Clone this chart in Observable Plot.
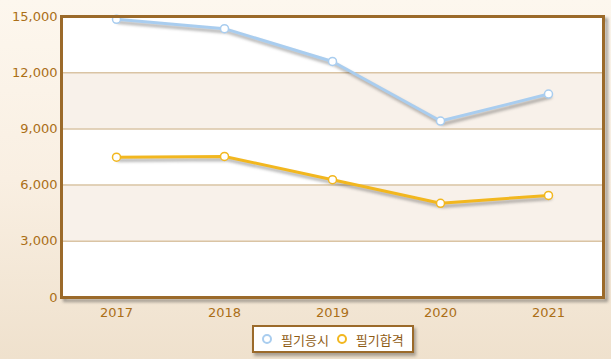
<!DOCTYPE html>
<html>
<head>
<meta charset="utf-8">
<script src="https://cdn.jsdelivr.net/npm/d3@7"></script>
<script src="https://cdn.jsdelivr.net/npm/@observablehq/plot@0.6"></script>
<style>
html, body { margin: 0; padding: 0; }
body { width: 611px; height: 359px; overflow: hidden; position: relative;
  background: linear-gradient(to bottom, #fdf7ee 0%, #f9efe2 50%, #efe1cd 100%);
  font-family: "DejaVu Sans", Verdana, sans-serif; }
.shadow { filter: blur(1.4px); }
#legend { position: absolute; left: 252px; top: 325px; width: 162px; height: 28px; box-sizing: border-box;
  background: #fff; border: 2px solid #9b6a2a; box-shadow: 2px 3px 3px rgba(0,0,0,0.3);
  display: flex; align-items: center; font-family: "Noto Sans CJK KR", sans-serif; font-size: 13px; color: #8f5c14; }
#legend .item { display: flex; align-items: center; }
#legend .dot { width: 6px; height: 6px; border-radius: 50%; border: 2px solid; background: #fff; margin: 0 9px 0 8px; }
</style>
</head>
<body>
<div id="chart"></div>
<div id="legend"></div>
<script>
const years = ["2017", "2018", "2019", "2020", "2021"];
const applicants = [14850, 14350, 12600, 9420, 10860];
const passers = [7490, 7530, 6290, 5030, 5450];
const seriesNames = ["필기응시", "필기합격"];
const yTicks = [0, 3000, 6000, 9000, 12000, 15000];
const bandStarts = [0, 3000, 6000, 9000, 12000];

const colors = ["#a9cdef", "#f2b71f"];
const labelColor = "#ab6f17";
const frameColor = "#9b6a2a";

const rows = [];
years.forEach((y, i) => {
  rows.push({year: y, value: applicants[i], series: seriesNames[0]});
  rows.push({year: y, value: passers[i], series: seriesNames[1]});
});
const bands = bandStarts.map(b => ({lo: b, hi: b + 3000}));

const chart = Plot.plot({
  width: 611,
  height: 320,
  marginLeft: 61,
  marginRight: 8,
  marginTop: 16,
  marginBottom: 23,
  style: {background: "transparent", fontFamily: "DejaVu Sans, Verdana, sans-serif", fontSize: "13px"},
  x: {type: "point", domain: years, padding: 0.5, label: null},
  y: {domain: [0, 15000], label: null},
  color: {domain: seriesNames, range: colors},
  marks: [
    Plot.frame({stroke: "#333", strokeOpacity: 0.45, strokeWidth: 3, dx: 3, dy: 3, className: "shadow"}),
    Plot.rect(bands, {y1: "lo", y2: "hi", fill: (d, i) => i % 2 ? "#f8f1ea" : "#ffffff"}),
    Plot.ruleY(yTicks.slice(1, -1), {stroke: "#dac4a4", strokeWidth: 1.5}),
    Plot.axisY({ticks: yTicks, tickSize: 0, tickPadding: 4, tickFormat: d3.format(","), fill: labelColor, fontSize: 13}),
    Plot.axisX({tickSize: 0, tickPadding: 10, fill: labelColor, fontSize: 13}),
    Plot.line(rows, {x: "year", y: "value", z: "series", stroke: "#333", strokeOpacity: 0.4, strokeWidth: 3, dx: 2, dy: 3, className: "shadow"}),
    Plot.line(rows, {x: "year", y: "value", stroke: "series", strokeWidth: 3}),
    Plot.dot(rows, {x: "year", y: "value", stroke: "series", fill: "#fff", r: 4, strokeWidth: 1.5}),
    Plot.frame({stroke: frameColor, strokeWidth: 3})
  ]
});
document.getElementById("chart").appendChild(chart);

const legend = document.getElementById("legend");
seriesNames.forEach((name, i) => {
  const item = document.createElement("div");
  item.className = "item";
  const dot = document.createElement("span");
  dot.className = "dot";
  dot.style.borderColor = colors[i];
  const label = document.createElement("span");
  label.textContent = name;
  item.appendChild(dot);
  item.appendChild(label);
  legend.appendChild(item);
});
</script>
</body>
</html>
